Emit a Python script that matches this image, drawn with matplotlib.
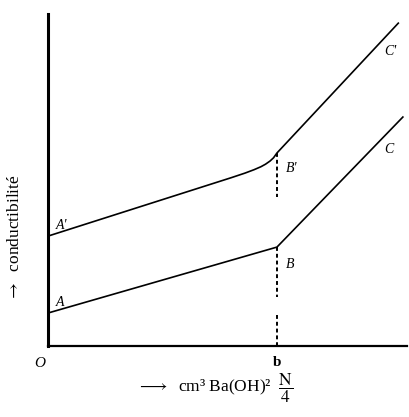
import matplotlib
matplotlib.use("Agg")
from matplotlib import pyplot as plt

# données (abscisse: b = 10)
x_bas = [0, 10, 15.5]
y_bas = [1.44, 4.32, 10.0]

x_haut = [0, 8.0, 8.6, 9.0, 9.3, 9.5, 9.7, 9.85, 10, 15.3]
y_haut = [4.8, 7.35, 7.55, 7.7, 7.83, 7.94, 8.08, 8.22, 8.43, 14.1]

b = 10
# tirets verticaux: (x, y début, y fin)
tirets = [(b, 8.43, 6.5), (b, 4.32, 2.14), (b, 1.35, 0)]

plt.rcParams['font.family'] = ['Liberation Serif', 'DejaVu Serif']
plt.rcParams['mathtext.fontset'] = 'stix'

fig = plt.figure(figsize=(4.09, 4.17), dpi=100)
ax = fig.add_axes([48 / 409, 1 - 346 / 417, 359 / 409, 332 / 417])

ax.plot(x_bas, y_bas, color='black', lw=1.2)
ax.plot(x_haut, y_haut, color='black', lw=1.2)
for xx, y0, y1 in tirets:
    ax.plot([xx, xx], [y0, y1], color='black', lw=1.4, linestyle=(0, (2, 1.5)))

ax.set_xlim(0, 15.68)
ax.set_ylim(0, 14.5)
ax.spines['top'].set_visible(False)
ax.spines['right'].set_visible(False)
ax.spines['left'].set_linewidth(2.2)
ax.spines['bottom'].set_linewidth(1.6)
ax.set_xticks([])
ax.set_yticks([])

# lettres
etiquettes = [("A", 0.35, 1.9), ("A'", 0.35, 5.25), ("B", 10.4, 3.55), ("B'", 10.4, 7.75),
              ("C", 14.7, 8.6), ("C'", 14.7, 12.85)]
for t, xx, yy in etiquettes:
    ax.text(xx, yy, t, fontsize=10, style='italic', ha='left', va='center')

ax.text(-0.35, -0.5, "O", fontsize=11, style='italic', ha='center', va='top')
ax.text(b, -0.45, "b", fontsize=11, fontweight='bold', ha='center', va='top')

fig.text(15 / 409, 1 - 238 / 417, r"$\rightarrow$  conductibilité", rotation=90,
         fontsize=12.5, ha='center', va='center')
fig.text(215 / 409, 1 - 388 / 417, r"$\longrightarrow$  cm³ Ba(OH)²  $\dfrac{\mathrm{N}}{4}$",
         fontsize=12.5, ha='center', va='center')

plt.savefig("out.png", dpi=100)
